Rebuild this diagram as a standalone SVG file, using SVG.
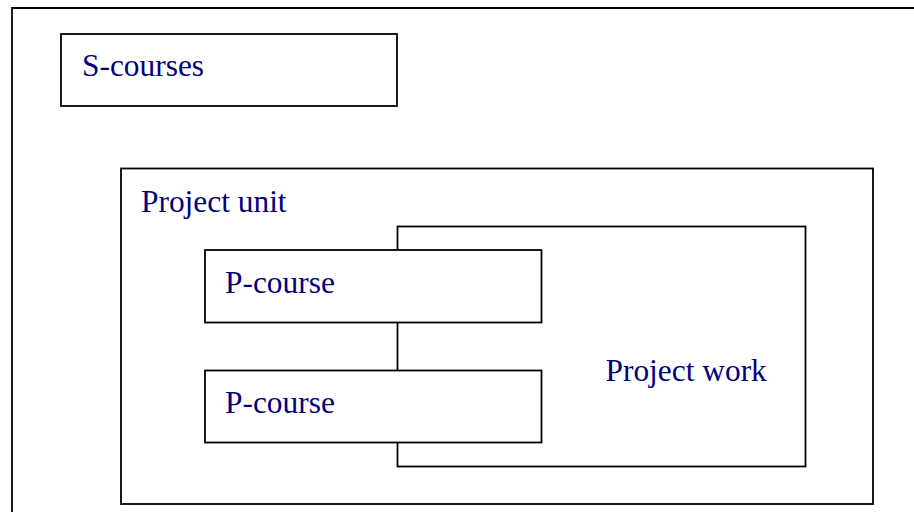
<svg xmlns="http://www.w3.org/2000/svg" width="914" height="512" viewBox="0 0 914 512">
<style>
.box{fill:#fff;stroke:#000;stroke-width:1.8}
.frame{fill:none;stroke:#000;stroke-width:1.8}
.lbl{font-family:"Liberation Serif","Times New Roman",serif;font-size:31.4px;fill:#000080}
</style>
<rect width="914" height="512" fill="#fff"/>
<g id="outer">
<path class="frame" d="M12,520 V8 H920"/>
</g>
<g id="s-courses">
<rect class="box" x="61" y="34" width="336" height="72"/>
<text class="lbl" x="82" y="76">S-courses</text>
</g>
<g id="project-unit">
<rect class="box" x="121" y="168.5" width="752" height="335.5"/>
<text class="lbl" x="141" y="211.5">Project unit</text>
</g>
<g id="project-work">
<rect class="box" x="397.5" y="226.5" width="408" height="240"/>
<text class="lbl" x="605.5" y="380.5">Project work</text>
</g>
<g id="p-course-1">
<rect class="box" x="205" y="250" width="336.5" height="72.5"/>
<text class="lbl" x="225" y="293">P-course</text>
</g>
<g id="p-course-2">
<rect class="box" x="205" y="370.5" width="336.5" height="72"/>
<text class="lbl" x="225" y="412.5">P-course</text>
</g>
<g id="connectors"></g>
</svg>
